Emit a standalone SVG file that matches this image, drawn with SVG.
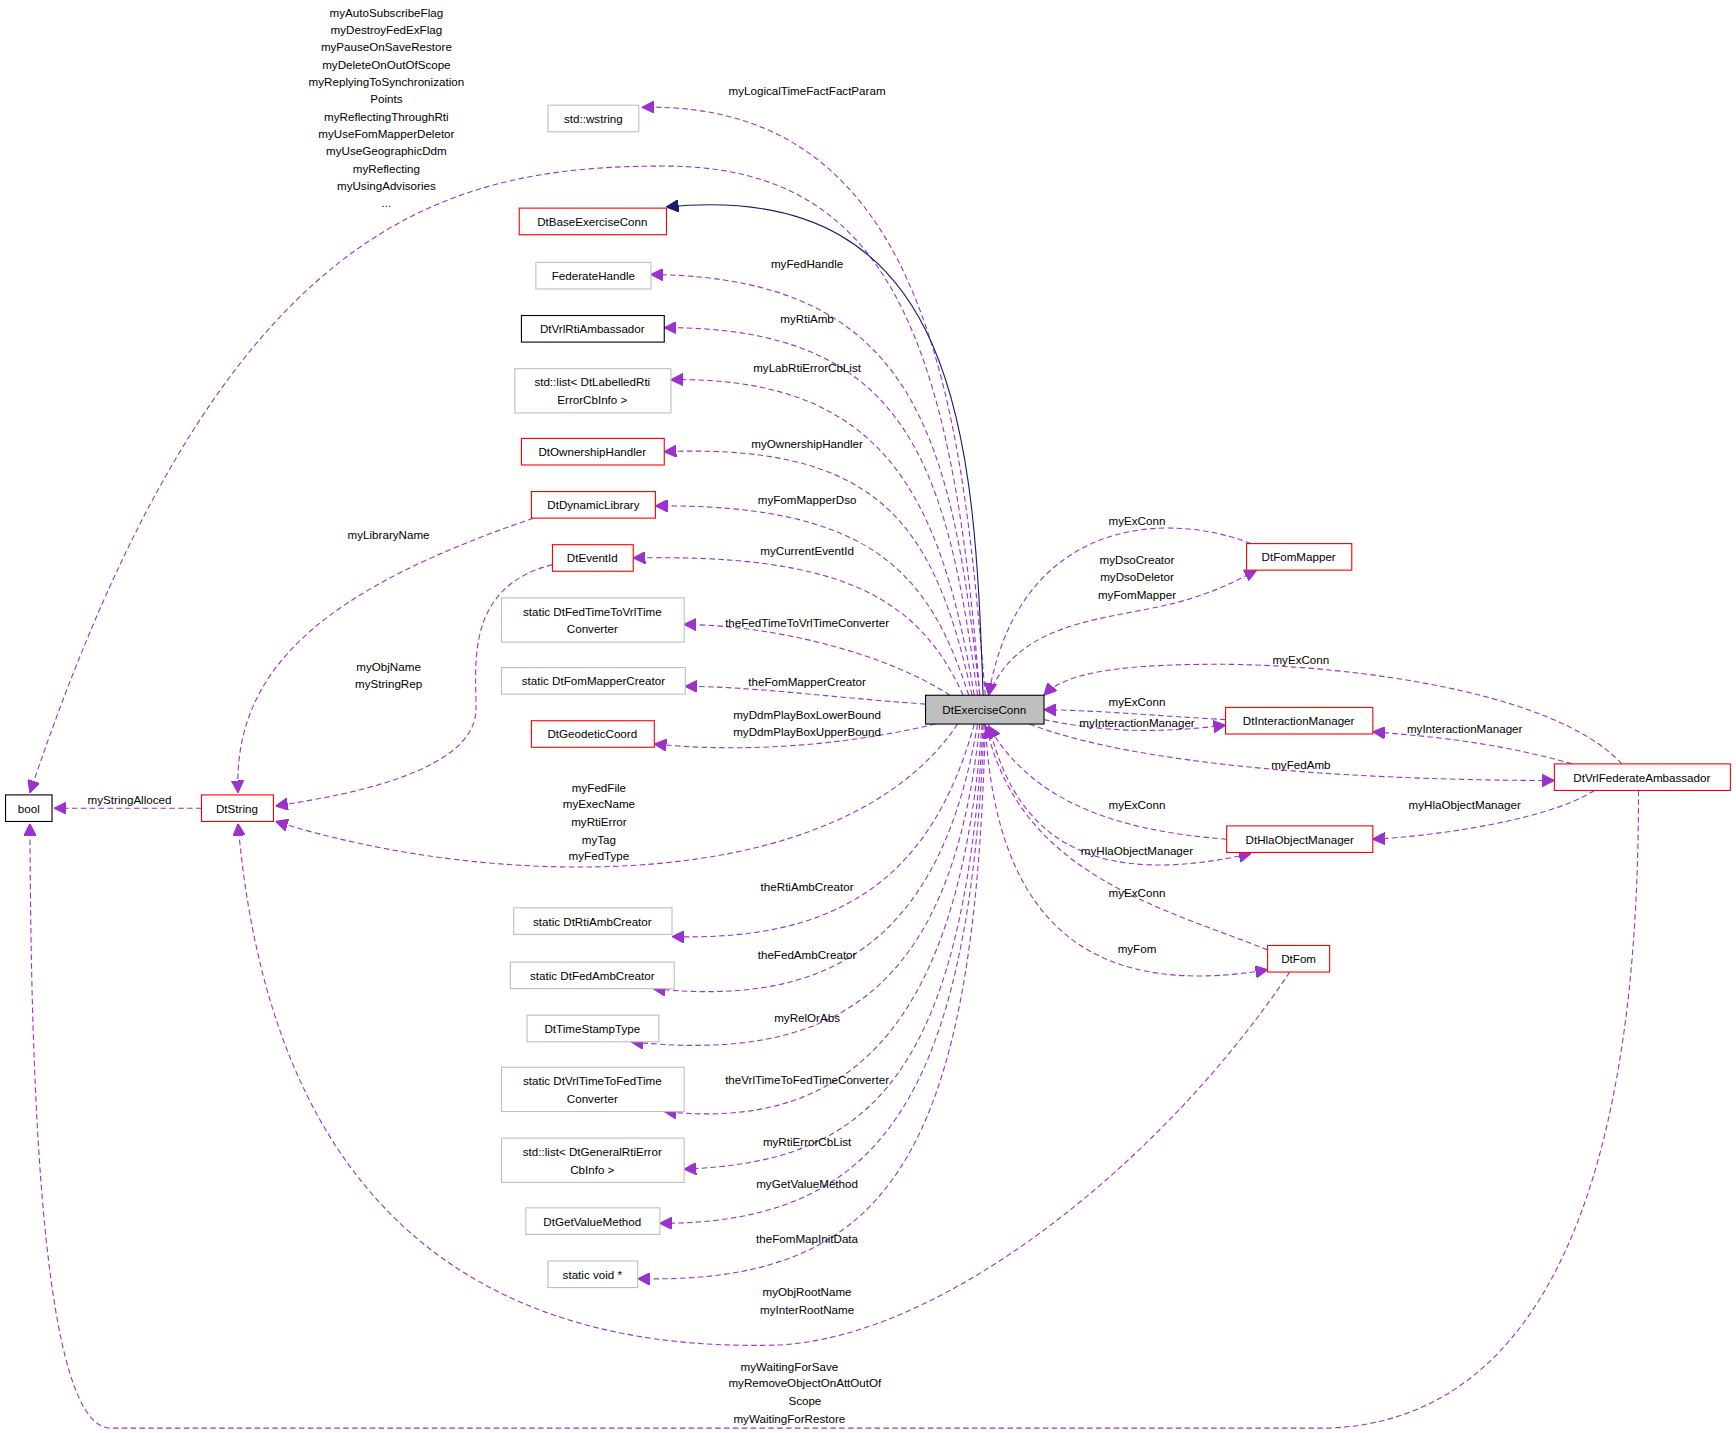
<svg xmlns="http://www.w3.org/2000/svg" width="1736" height="1433" viewBox="0 0 1736 1433">
<style>
text{font-family:"Liberation Sans",Arial,sans-serif;font-size:10.5px;fill:#000;text-anchor:middle}
.n rect{fill:#fff;stroke-width:1}
.red rect{stroke:#ff0000}
.gray rect{stroke:#bfbfbf}
.blk rect{stroke:#000}
.e path{fill:none;stroke:#9a32cd;stroke-dasharray:5,3;marker-end:url(#a)}
</style>
<defs>
<marker id="a" viewBox="0 0 10 10" refX="10" refY="5" markerWidth="11" markerHeight="11" markerUnits="userSpaceOnUse" orient="auto"><path d="M0,0L10,5L0,10z" fill="#9a32cd" stroke="#9a32cd"/></marker>
<marker id="b" viewBox="0 0 10 10" refX="10" refY="5" markerWidth="11" markerHeight="11" markerUnits="userSpaceOnUse" orient="auto"><path d="M0,0L10,5L0,10z" fill="#191970" stroke="#191970"/></marker>
</defs>
<rect width="1736" height="1433" fill="#fff"/>
<g transform="scale(1.1071)">
<g id="edges" class="e">
<path d="M890,628 C870,400 850,90 580,97"/>
<path d="M885,628 C860,300 800,150 600,150 C400,150 200,200 27,716"/>
<path d="M888,628 C880,400 870,160 602,187" style="stroke:#191970;stroke-dasharray:none;marker-end:url(#b)"/>
<path d="M885,628 C860,400 830,250 588,248"/>
<path d="M883,628 C855,420 820,295 600,296"/>
<path d="M880,628 C850,450 800,340 606,343"/>
<path d="M878,628 C845,480 800,400 600,408"/>
<path d="M875,628 C840,520 790,455 592,457"/>
<path d="M870,628 C830,540 760,500 572,504"/>
<path d="M858,628 C800,590 700,565 618,564"/>
<path d="M836,636 C750,630 680,620 619,620"/>
<path d="M845,654 C760,674 670,680 591,672"/>
<path d="M865,654 C760,810 450,805 249,742"/>
<path d="M482,468 C300,530 210,600 215,716"/>
<path d="M499,510 C420,530 430,600 430,640 C430,700 300,720 249,728"/>
<path d="M182,730 L49,730"/>
<path d="M880,654 C840,800 750,850 607,846"/>
<path d="M883,654 C850,850 750,910 590,893"/>
<path d="M885,654 C860,900 750,960 570,941"/>
<path d="M887,654 C865,950 750,1020 600,1004"/>
<path d="M888,654 C870,980 780,1050 618,1056"/>
<path d="M889,654 C875,1000 790,1105 596,1105"/>
<path d="M890,654 C880,1050 800,1160 576,1155"/>
<path d="M1165,878 C1050,1050 850,1210 700,1215 C500,1220 250,1150 215,744"/>
<path d="M1480,714 C1480,900 1460,1280 1200,1290 L100,1290 C30,1290 28,900 27,744"/>
<path d="M1130,491 C1050,460 920,470 893,628"/>
<path d="M893,628 C920,560 1000,560 1060,545 C1100,535 1125,520 1135,515"/>
<path d="M1465,690 C1400,620 1200,600 1100,600 C1000,600 960,610 943,628"/>
<path d="M1107,650 C1050,647 1000,642 943,641"/>
<path d="M943,650 C1000,662 1050,662 1107,655"/>
<path d="M930,654 C1050,700 1300,705 1404,705"/>
<path d="M1420,690 C1350,670 1290,665 1240,661"/>
<path d="M1440,714 C1400,740 1300,755 1240,758"/>
<path d="M1108,758 C1000,750 930,720 893,656"/>
<path d="M893,654 C920,770 1000,800 1130,771"/>
<path d="M1145,858 C1050,820 920,790 891,656"/>
<path d="M890,654 C900,850 1000,900 1145,876"/>
</g>
<g id="labels">
<text x="729" y="86">myLogicalTimeFactFactParam</text>
<text x="349" y="15">myAutoSubscribeFlag</text><text x="349" y="31">myDestroyFedExFlag</text><text x="349" y="46">myPauseOnSaveRestore</text><text x="349" y="62">myDeleteOnOutOfScope</text><text x="349" y="78">myReplyingToSynchronization</text><text x="349" y="93">Points</text><text x="349" y="109">myReflectingThroughRti</text><text x="349" y="125">myUseFomMapperDeletor</text><text x="349" y="140">myUseGeographicDdm</text><text x="349" y="156">myReflecting</text><text x="349" y="172">myUsingAdvisories</text><text x="349" y="187">...</text>
<text x="729" y="242">myFedHandle</text>
<text x="729" y="292">myRtiAmb</text>
<text x="729" y="336">myLabRtiErrorCbList</text>
<text x="729" y="405">myOwnershipHandler</text>
<text x="729" y="455">myFomMapperDso</text>
<text x="729" y="501">myCurrentEventId</text>
<text x="729" y="566">theFedTimeToVrlTimeConverter</text>
<text x="729" y="620">theFomMapperCreator</text>
<text x="729" y="649">myDdmPlayBoxLowerBound</text><text x="729" y="665">myDdmPlayBoxUpperBound</text>
<text x="541" y="715">myFedFile</text><text x="541" y="730">myExecName</text><text x="541" y="746">myRtiError</text><text x="541" y="762">myTag</text><text x="541" y="777">myFedType</text>
<text x="351" y="487">myLibraryName</text>
<text x="351" y="606">myObjName</text><text x="351" y="621">myStringRep</text>
<text x="117" y="726">myStringAlloced</text>
<text x="729" y="805">theRtiAmbCreator</text>
<text x="729" y="866">theFedAmbCreator</text>
<text x="729" y="923">myRelOrAbs</text>
<text x="729" y="979">theVrlTimeToFedTimeConverter</text>
<text x="729" y="1035">myRtiErrorCbList</text>
<text x="729" y="1073">myGetValueMethod</text>
<text x="729" y="1123">theFomMapInitData</text>
<text x="729" y="1171">myObjRootName</text><text x="729" y="1187">myInterRootName</text>
<text x="713" y="1238">myWaitingForSave</text><text x="727" y="1253">myRemoveObjectOnAttOutOf</text><text x="727" y="1269">Scope</text><text x="713" y="1285">myWaitingForRestore</text>
<text x="1027" y="474">myExConn</text>
<text x="1027" y="509">myDsoCreator</text><text x="1027" y="525">myDsoDeletor</text><text x="1027" y="541">myFomMapper</text>
<text x="1175" y="600">myExConn</text>
<text x="1027" y="638">myExConn</text>
<text x="1027" y="657">myInteractionManager</text>
<text x="1175" y="695">myFedAmb</text>
<text x="1323" y="662">myInteractionManager</text>
<text x="1323" y="731">myHlaObjectManager</text>
<text x="1027" y="731">myExConn</text>
<text x="1027" y="772">myHlaObjectManager</text>
<text x="1027" y="810">myExConn</text>
<text x="1027" y="861">myFom</text>
</g>
<g id="n_bool" class="n blk"><rect x="5" y="718" width="42" height="24"/><text x="26" y="734">bool</text></g>
<g id="n_DtString" class="n red"><rect x="182" y="718" width="65" height="24"/><text x="214" y="734">DtString</text></g>
<g id="n_wstring" class="n gray"><rect x="495" y="95" width="82" height="24"/><text x="536" y="111">std::wstring</text></g>
<g id="n_DtBaseExerciseConn" class="n red"><rect x="469" y="188" width="133" height="24"/><text x="535" y="204">DtBaseExerciseConn</text></g>
<g id="n_FederateHandle" class="n gray"><rect x="484" y="237" width="104" height="24"/><text x="536" y="253">FederateHandle</text></g>
<g id="n_DtVrlRtiAmbassador" class="n blk"><rect x="471" y="285" width="129" height="24"/><text x="535" y="301">DtVrlRtiAmbassador</text></g>
<g id="n_labList" class="n gray"><rect x="465" y="333" width="141" height="40"/><text x="535" y="349">std::list&lt; DtLabelledRti</text><text x="535" y="365">ErrorCbInfo &gt;</text></g>
<g id="n_DtOwnershipHandler" class="n red"><rect x="471" y="396" width="129" height="24"/><text x="535" y="412">DtOwnershipHandler</text></g>
<g id="n_DtDynamicLibrary" class="n red"><rect x="480" y="444" width="112" height="24"/><text x="536" y="460">DtDynamicLibrary</text></g>
<g id="n_DtEventId" class="n red"><rect x="499" y="492" width="73" height="24"/><text x="535" y="508">DtEventId</text></g>
<g id="n_fedToVrl" class="n gray"><rect x="453" y="540" width="165" height="40"/><text x="535" y="556">static DtFedTimeToVrlTime</text><text x="535" y="572">Converter</text></g>
<g id="n_fomMapperCreator" class="n gray"><rect x="453" y="603" width="166" height="24"/><text x="536" y="619">static DtFomMapperCreator</text></g>
<g id="n_DtGeodeticCoord" class="n red"><rect x="480" y="651" width="111" height="24"/><text x="535" y="667">DtGeodeticCoord</text></g>
<g id="n_rtiAmbCreator" class="n gray"><rect x="464" y="820" width="143" height="24"/><text x="535" y="836">static DtRtiAmbCreator</text></g>
<g id="n_fedAmbCreator" class="n gray"><rect x="461" y="869" width="148" height="24"/><text x="535" y="885">static DtFedAmbCreator</text></g>
<g id="n_DtTimeStampType" class="n gray"><rect x="476" y="917" width="119" height="24"/><text x="535" y="933">DtTimeStampType</text></g>
<g id="n_vrlToFed" class="n gray"><rect x="453" y="964" width="165" height="40"/><text x="535" y="980">static DtVrlTimeToFedTime</text><text x="535" y="996">Converter</text></g>
<g id="n_genList" class="n gray"><rect x="453" y="1028" width="165" height="40"/><text x="535" y="1044">std::list&lt; DtGeneralRtiError</text><text x="535" y="1060">CbInfo &gt;</text></g>
<g id="n_DtGetValueMethod" class="n gray"><rect x="475" y="1091" width="121" height="24"/><text x="535" y="1107">DtGetValueMethod</text></g>
<g id="n_voidp" class="n gray"><rect x="495" y="1139" width="81" height="24"/><text x="535" y="1155">static void *</text></g>
<g id="n_DtExerciseConn" class="n"><rect x="836" y="628" width="107" height="26" style="fill:#bfbfbf;stroke:#000"/><text x="889" y="645">DtExerciseConn</text></g>
<g id="n_DtFomMapper" class="n red"><rect x="1126" y="491" width="95" height="24"/><text x="1173" y="507">DtFomMapper</text></g>
<g id="n_DtInteractionManager" class="n red"><rect x="1107" y="639" width="133" height="24"/><text x="1173" y="655">DtInteractionManager</text></g>
<g id="n_DtVrlFederateAmbassador" class="n red"><rect x="1404" y="690" width="159" height="24"/><text x="1483" y="706">DtVrlFederateAmbassador</text></g>
<g id="n_DtHlaObjectManager" class="n red"><rect x="1108" y="746" width="132" height="24"/><text x="1174" y="762">DtHlaObjectManager</text></g>
<g id="n_DtFom" class="n red"><rect x="1145" y="854" width="56" height="24"/><text x="1173" y="870">DtFom</text></g>
</g>
</svg>
